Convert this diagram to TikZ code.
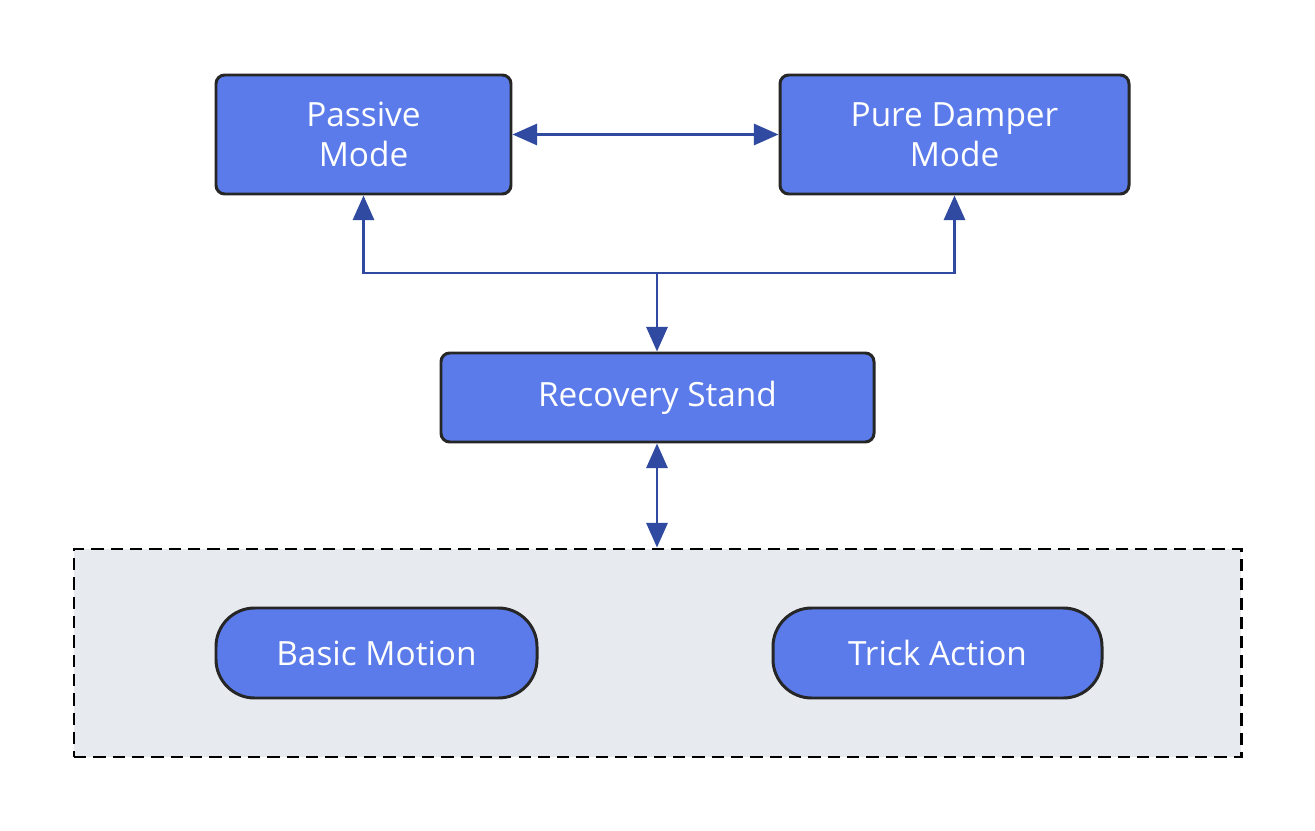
\documentclass[tikz,border=0pt]{standalone}
\usepackage{fontspec}
\setmainfont{Open Sans}
\usetikzlibrary{arrows.meta}
\definecolor{nfill}{HTML}{5B7BEA}
\definecolor{acol}{HTML}{2F4AA0}
\definecolor{gfill}{HTML}{E7EAEE}
\begin{document}
\begin{tikzpicture}[x=0.02cm,y=-0.02cm,
  box/.style={draw=black!85,line width=1.7pt,fill=nfill,text=white,rounded corners=5pt,
    font=\fontsize{19}{23}\selectfont,align=center,inner sep=0pt},
  pill/.style={box,rounded corners=22pt},
  arr/.style={draw=acol,line width=1.6pt,-{Triangle[length=14pt,width=12pt]}},
  darr/.style={draw=acol,line width=1.6pt,{Triangle[length=14pt,width=12pt]}-{Triangle[length=14pt,width=12pt]}}]
\useasboundingbox (0,0) rectangle (1315,831);
\node[draw=black,line width=1.7pt,dash pattern=on 7pt off 4pt,fill=gfill,minimum width=1167*0.02cm,minimum height=208*0.02cm,inner sep=0pt] (grp) at (657.5,653) {};
\node[box,minimum width=295*0.02cm,minimum height=119*0.02cm] (pm) at (363.5,134.5) {Passive\\Mode};
\node[box,minimum width=349*0.02cm,minimum height=119*0.02cm] (pd) at (954.5,134.5) {Pure Damper\\Mode};
\node[box,minimum width=433*0.02cm,minimum height=89*0.02cm] (rs) at (657.5,397.5) {Recovery Stand};
\node[pill,minimum width=321*0.02cm,minimum height=90*0.02cm] (bm) at (376.5,653) {Basic Motion};
\node[pill,minimum width=329*0.02cm,minimum height=90*0.02cm] (ta) at (937.5,653) {Trick Action};
\coordinate (j) at (657,273);
\draw[darr] (pm.east) -- (pd.west);
\draw[arr] (j) -| (pm.south);
\draw[arr] (j) -| (pd.south);
\draw[arr] (j) -- (rs.north -| j);
\draw[darr] (rs.south -| j) -- (grp.north -| j);
\end{tikzpicture}
\end{document}
